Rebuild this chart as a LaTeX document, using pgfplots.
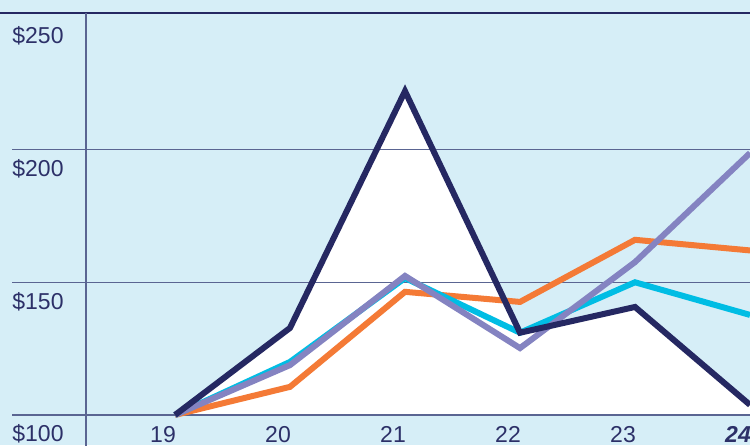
\documentclass[border=0pt]{standalone}
\usepackage{pgfplots}
\pgfplotsset{compat=1.18}
\usepackage{fontspec}
\setmainfont{Liberation Sans}
\definecolor{bg}{HTML}{D6EEF7}
\definecolor{navy}{HTML}{252862}
\definecolor{txt}{HTML}{2C3068}
\definecolor{gridc}{HTML}{5A6592}
\definecolor{orng}{HTML}{F47A36}
\definecolor{cyn}{HTML}{00BDE4}
\definecolor{lav}{HTML}{8483C1}
\begin{document}
\begin{tikzpicture}
\fill[bg] (0,0) rectangle (375pt,222.5pt);
\useasboundingbox (0,0) rectangle (375pt,222.5pt);
\begin{axis}[at={(0,0)}, anchor=south west,
  width=375pt, height=222.5pt, scale only axis,
  xmin=17.47826, xmax=24, ymin=88.69, ymax=256.36,
  axis line style={draw=none}, major tick length=0pt,
  clip=true,
  xtick={19,20,21,22,23,24},
  xticklabels={19,20,21,22,23,\textbf{\textit{24}}},
  xticklabel style={anchor=base, xshift=-6pt, yshift=1.5pt},
  ytick={100,150,200,250},
  yticklabels={\$100,\$150,\$200,\$250},
  yticklabel style={anchor=base west, xshift=6pt, yshift=-13.5pt},
  ticklabel style={font=\fontsize{11.5}{13}\selectfont, text=txt, inner sep=0pt},
  line join=miter,
]
% white area under the navy series
\addplot[fill=white, draw=none] coordinates {(19,100) (20,132.8) (21,222) (22,131) (23,140.7) (24,103.8) (24,100)} -- cycle;
% grid lines
\draw[gridc, line width=0.7pt] (axis cs:17.583,100) -- (axis cs:24.2,100);
\draw[gridc, line width=0.7pt] (axis cs:17.583,150) -- (axis cs:24.2,150);
\draw[gridc, line width=0.7pt] (axis cs:17.583,200) -- (axis cs:24.2,200);
\draw[navy, line width=0.8pt] (axis cs:17.3,251.36) -- (axis cs:24.2,251.36);
\draw[gridc, line width=0.8pt] (axis cs:18.226,251.36) -- (axis cs:18.226,85);
% series
\addplot[orng, line width=3pt] coordinates {(19,100) (20,110.6) (21,146.4) (22,142.6) (23,166) (24,162)};
\addplot[cyn, line width=3pt] coordinates {(19,100) (20,120) (21,151.6) (22,131) (23,150) (24,137.7)};
\addplot[lav, line width=3pt] coordinates {(19,100) (20,118.8) (21,152.4) (22,125.2) (23,157.6) (24,198.7)};
\addplot[navy, line width=3pt] coordinates {(19,100) (20,132.8) (21,222) (22,131) (23,140.7) (24,103.8)};
\end{axis}
\end{tikzpicture}
\end{document}
